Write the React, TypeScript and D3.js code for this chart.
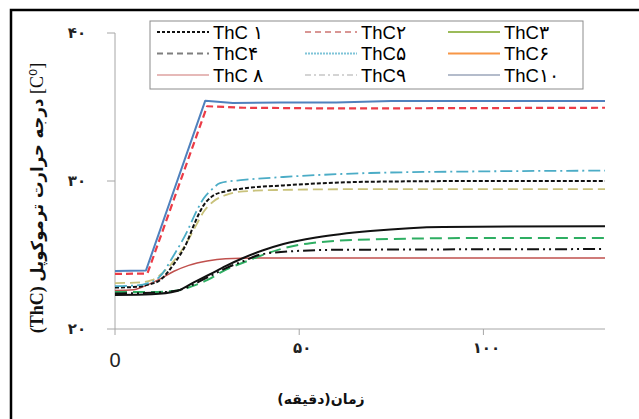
import React from "react";
import * as d3 from "d3";

// Thermocouple temperatures [°C] against time [min]
type Pt = [number, number];

const thc1: Pt[] = [[0,22.8],[6,22.85],[9,23.0],[12.2,23.3],[16,24.4],[19.6,25.9],[21.2,26.9],[23.9,28.3],[26.6,29.0],[30,29.3],[34.8,29.5],[45.7,29.7],[69.3,29.95],[100,30.0],[133,30.0]];
const thc2: Pt[] = [[0,23.72],[8.8,23.75],[25,35.05],[35,34.95],[60,34.9],[133,34.95]];
const thc3: Pt[] = [[0,22.5],[10,22.5],[17,22.6],[21,22.9],[25,23.3],[30,24.0],[36,24.6],[38.6,24.86],[45,25.4],[53,25.8],[69.3,26.05],[100,26.15],[133,26.15]];
const thc4: Pt[] = [[0,22.4],[10,22.45],[17,22.6],[22,23.1],[26,23.6],[30,24.1],[35,24.6],[39,25.0],[45,25.2],[60,25.35],[133,25.4]];
const thc5: Pt[] = [[0,22.9],[6,22.95],[9,23.1],[12,23.5],[16,25.0],[19.6,26.6],[22,27.9],[24,28.8],[26.6,29.5],[28.5,29.86],[34.8,30.07],[45.7,30.27],[69.3,30.54],[100,30.65],[133,30.7]];
const thc6: Pt[] = [[0,22.3],[10,22.35],[16.8,22.57],[21,23.1],[25.8,23.7],[30,24.25],[34.8,24.8],[40,25.3],[45.7,25.74],[55,26.2],[69.3,26.62],[89,26.9],[133,26.95]];
const thc8: Pt[] = [[0,22.6],[5,22.65],[8,22.9],[12,23.35],[16,23.9],[20,24.3],[25,24.6],[30,24.75],[40,24.8],[133,24.8]];
const thc9: Pt[] = [[0,23.1],[7,23.15],[10,23.3],[13,23.8],[16,24.6],[19.6,25.9],[22,27.0],[24,27.9],[26.6,28.6],[30,29.05],[34.8,29.3],[45.7,29.4],[69.3,29.45],[133,29.45]];
const thc10: Pt[] = [[0,23.92],[8.4,23.95],[24.5,35.43],[32,35.27],[45,35.3],[60,35.3],[75,35.4],[133,35.4]];

const timeTicks = [0, 50, 100];
const timeTickLabels = ["0", "۵۰", "۱۰۰"];
const tempTicks = [20, 30, 40];
const tempTickLabels = ["۲۰", "۳۰", "۴۰"];

const xTitle = "زمان(دقیقه)";
const yTitleLead = "(ThC) ";
const yTitleWords = "درجه حرارت ترموکوپل";
const yTitleUnit = "  [C⁰]";

// curves as plotted
const plotSeries = [
  { data: thc8, color: "#c0504d", width: 1.5, dash: "", linear: false },
  { data: thc3, color: "#2eae62", width: 2, dash: "12,6", linear: false },
  { data: thc4, color: "#111", width: 2, dash: "12,4,2,4,2,4", linear: false },
  { data: thc6, color: "#111", width: 2, dash: "", linear: false },
  { data: thc9, color: "#c9c27c", width: 1.8, dash: "10,5", linear: false },
  { data: thc1, color: "#111", width: 2, dash: "4,2", linear: false },
  { data: thc5, color: "#4bacc6", width: 1.8, dash: "12,4,2,4", linear: false },
  { data: thc2, color: "#ec3b46", width: 2.2, dash: "7,4", linear: true },
  { data: thc10, color: "#4f81bd", width: 2, dash: "", linear: true },
];

// legend entries (row-major)
const legendNames = ["ThC ۱", "ThC۲", "ThC۳", "ThC۴", "ThC۵", "ThC۶", "ThC ۸", "ThC۹", "ThC۱۰"];
const legendColors = ["#111", "#d99694", "#9bbb59", "#7f7f7f", "#7fc4d8", "#f79646", "#e6b9b8", "#d4d4d4", "#b4bccb"];
const legendDashes = ["3,2", "6,4", "", "6,4", "2,1", "", "", "6,3,2,3", ""];

export default function App() {
  const x = d3.scaleLinear().domain([0, 133]).range([115, 605]);
  const y = d3.scaleLinear().domain([20, 40]).range([329, 33]);
  const smooth = d3
    .line<Pt>()
    .x((d) => x(d[0]))
    .y((d) => y(d[1]))
    .curve(d3.curveMonotoneX);
  const straight = d3
    .line<Pt>()
    .x((d) => x(d[0]))
    .y((d) => y(d[1]))
    .curve(d3.curveLinear);

  const legendCols = [157, 305, 448];
  const legendRows = [32, 53.5, 75];
  const lineLen = 52;

  return (
    <svg
      width={639}
      height={419}
      style={{ position: "absolute", left: 0, top: 0, background: "#fff" }}
    >
      <rect x={0} y={0} width={639} height={419} fill="#fff" />
      {/* outer frame */}
      <path d="M11,420 L11,10 L640,10" fill="none" stroke="#000" strokeWidth={2.5} />

      {/* axes */}
      <line x1={x(0)} x2={x(133)} y1={y(20)} y2={y(20)} stroke="#a6a6a6" strokeWidth={1} />
      <line x1={x(0)} x2={x(0)} y1={y(20)} y2={y(40)} stroke="#a6a6a6" strokeWidth={1} />
      {tempTicks.map((t, i) => (
        <g key={"yt" + t}>
          <line x1={x(0) - 8} x2={x(0)} y1={y(t)} y2={y(t)} stroke="#a6a6a6" strokeWidth={1} />
          <text
            x={x(0) - 38}
            y={y(t)}
            dy="0.35em"
            textAnchor="middle"
            fontFamily="DejaVu Sans"
            fontWeight="bold"
            fontSize={15}
            fill="#222"
          >
            {tempTickLabels[i]}
          </text>
        </g>
      ))}
      {timeTicks.map((t, i) => (
        <g key={"xt" + t}>
          <line x1={x(t)} x2={x(t)} y1={y(20)} y2={y(20) + 6} stroke="#a6a6a6" strokeWidth={1} />
          {t === 0 ? (
            <text x={x(t)} y={367} textAnchor="middle" fontFamily="Liberation Sans" fontSize={20} fill="#222">
              {timeTickLabels[i]}
            </text>
          ) : (
            <text
              x={x(t) + 3}
              y={353}
              textAnchor="middle"
              fontFamily="DejaVu Sans"
              fontWeight="bold"
              fontSize={15}
              fill="#222"
            >
              {timeTickLabels[i]}
            </text>
          )}
        </g>
      ))}

      {/* curves */}
      {plotSeries.map((s, i) => (
        <path
          key={"s" + i}
          d={(s.linear ? straight : smooth)(s.data) || ""}
          fill="none"
          stroke={s.color}
          strokeWidth={s.width}
          strokeDasharray={s.dash || undefined}
          strokeLinejoin="round"
        />
      ))}

      {/* legend */}
      <rect x={150} y={21} width={433} height={68} fill="#fff" stroke="#8c8c8c" strokeWidth={1} />
      {legendNames.map((name, i) => {
        const cx = legendCols[i % 3];
        const cy = legendRows[Math.floor(i / 3)];
        return (
          <g key={"lg" + i}>
            <line
              x1={cx}
              x2={cx + lineLen}
              y1={cy}
              y2={cy}
              stroke={legendColors[i]}
              strokeWidth={1.8}
              strokeDasharray={legendDashes[i] || undefined}
            />
            <text x={cx + lineLen + 4} y={cy} dy="0.36em" fontFamily="Liberation Sans" fontSize={18.5} fill="#000">
              {name}
            </text>
          </g>
        );
      })}

      {/* axis titles */}
      <text
        x={321}
        y={404}
        direction="rtl"
        textAnchor="middle"
        fontFamily="DejaVu Sans"
        fontWeight="bold"
        fontSize={14}
        fill="#111"
      >
        {xTitle}
      </text>
      <text
        transform="translate(43,198) rotate(-90)"
        textAnchor="middle"
        fontFamily="Liberation Serif, DejaVu Sans"
        fontWeight="bold"
        fontSize={18}
        fill="#111"
      >
        <tspan>{yTitleLead}</tspan>
        <tspan fontFamily="DejaVu Sans" fontSize={16.5}>{yTitleWords}</tspan>
        <tspan fontWeight="normal">{yTitleUnit}</tspan>
      </text>
    </svg>
  );
}
